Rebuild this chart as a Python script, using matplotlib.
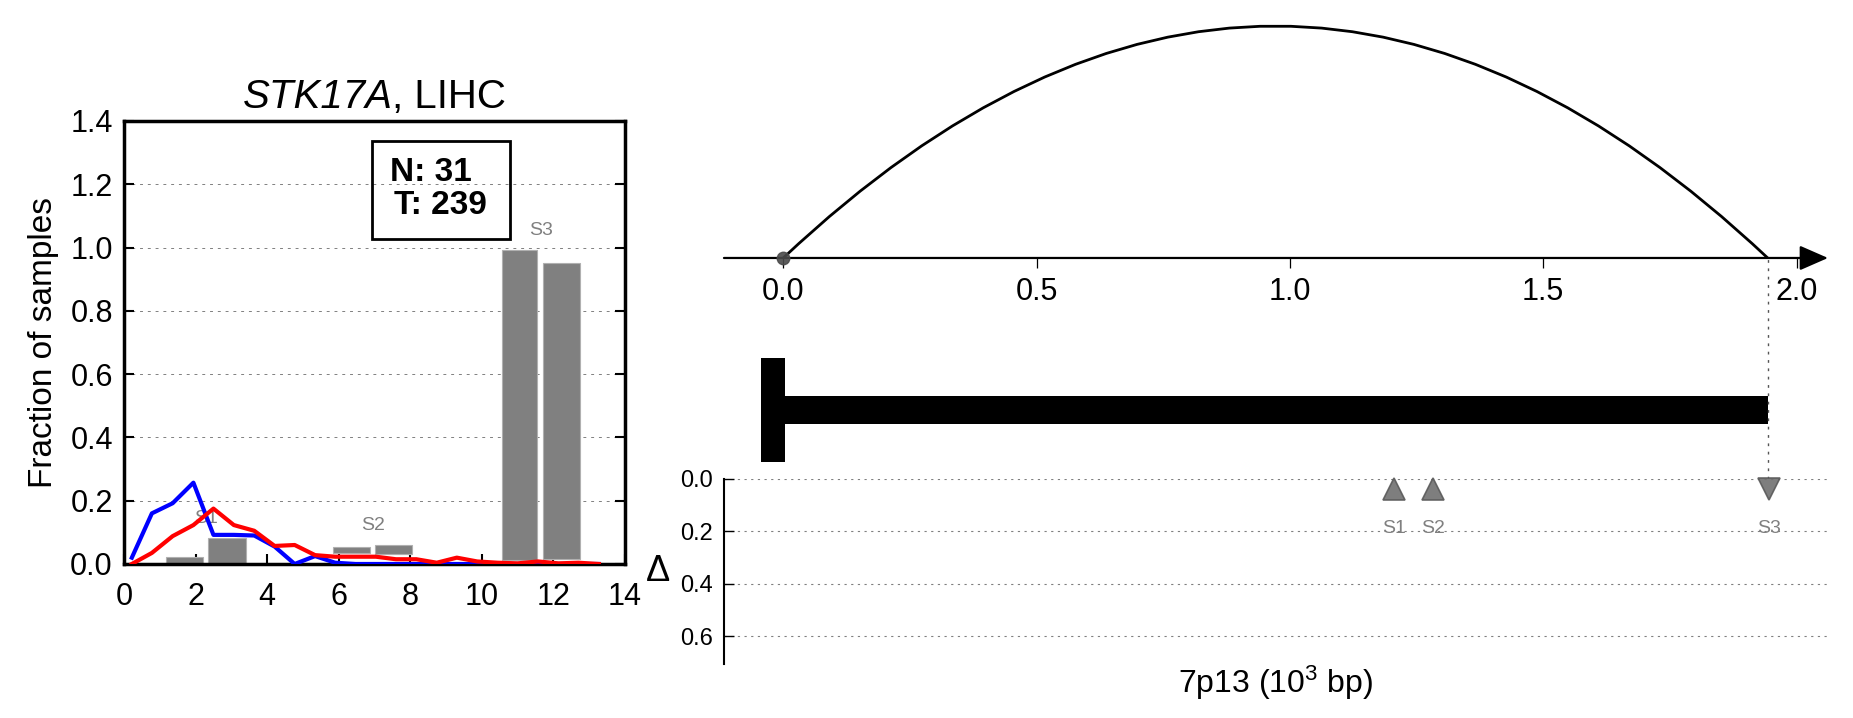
import matplotlib
matplotlib.use("Agg")
import matplotlib.pyplot as plt
from matplotlib.patches import Rectangle, PathPatch
from matplotlib.path import Path
from matplotlib.offsetbox import TextArea, HPacker, AnchoredOffsetbox

plt.rcParams["font.family"] = ["Liberation Sans", "DejaVu Sans"]
plt.rcParams["mathtext.fontset"] = "custom"
plt.rcParams["mathtext.rm"] = "Liberation Sans"
plt.rcParams["mathtext.it"] = "Liberation Sans:italic"
plt.rcParams["mathtext.bf"] = "Liberation Sans:bold"

# ---- left panel data ----
gene_name, cohort = "STK17A", "LIHC"
bin_x = [0.22, 0.78, 1.36, 1.94, 2.50, 3.07, 3.64, 4.21, 4.77, 5.34, 5.90, 6.47,
         7.04, 7.60, 8.17, 8.74, 9.30, 9.87, 10.44, 11.00, 11.57, 12.14, 12.70, 13.27]
normal_frac = [0.02, 0.16, 0.192, 0.257, 0.092, 0.092, 0.09, 0.055, 0.0, 0.025, 0.004, 0.0,
               0.0, 0.0, 0.0, 0.0, 0.0, 0.0, 0.0, 0.0, 0.0, 0.0, 0.0, 0.0]
tumor_frac = [0.0, 0.035, 0.088, 0.123, 0.175, 0.123, 0.105, 0.057, 0.060, 0.028, 0.023, 0.023,
              0.023, 0.015, 0.015, 0.004, 0.020, 0.008, 0.004, 0.002, 0.008, 0.002, 0.004, 0.0]

seg_names = ["S1", "S2", "S3"]
bar_left = [1.17, 2.36, 5.85, 7.02, 10.56, 11.70]
bar_right = [2.22, 3.40, 6.88, 8.05, 11.55, 12.73]
bar_top = [0.023, 0.081, 0.055, 0.060, 0.992, 0.952]
bar_bottom = [0.004, 0.004, 0.036, 0.033, 0.014, 0.015]
n_normal, n_tumor = 31, 239

# ---- right panel data ----
gene_start, gene_end = 0.0, 1.943
seg_pos = [1.206, 1.283, 1.946]
seg_delta = [0.04, 0.04, 0.04]
seg_marker = ["^", "^", "v"]
pos_ticks = [0.0, 0.5, 1.0, 1.5, 2.0]
delta_ticks = [0.0, 0.2, 0.4, 0.6]
x_range = (-0.117, 2.062)

fig = plt.figure(figsize=(18.53, 7.18), dpi=100)

# ================= left: fraction of samples =================
ax = fig.add_axes([0.0669, 0.2145, 0.2704, 0.6170])
widths = [r - l for l, r in zip(bar_left, bar_right)]
heights = [t - b for t, b in zip(bar_top, bar_bottom)]
ax.bar(bar_left, heights, width=widths, bottom=bar_bottom, align="edge",
       color="#808080", edgecolor="#b0b0b0", linewidth=0.8, zorder=2)
for i, name in enumerate(seg_names):
    cx = (bar_left[2 * i] + bar_right[2 * i + 1]) / 2
    cy = max(bar_top[2 * i], bar_top[2 * i + 1]) + 0.063
    ax.text(cx, cy, name, color="#808080", fontsize=14, ha="center", va="center", zorder=3)
ax.plot(bin_x, normal_frac, color="blue", lw=3, zorder=4)
ax.plot(bin_x, tumor_frac, color="red", lw=3, zorder=5)

ax.set_xlim(0, 14)
ax.set_ylim(0, 1.4)
ax.set_xticks(range(0, 15, 2))
ax.set_yticks([0.0, 0.2, 0.4, 0.6, 0.8, 1.0, 1.2, 1.4])
ax.set_yticklabels(["%.1f" % v for v in ax.get_yticks()])
ax.tick_params(direction="in", length=7, width=1.5, labelsize=22,
               left=True, right=True, bottom=True, top=False)
ax.tick_params(axis="y", pad=8)
ax.tick_params(axis="x", pad=13)
ax.yaxis.grid(True, color="#808080", linestyle=(0, (3, 5)), lw=0.7)
for s in ax.spines.values():
    s.set_linewidth(2.5)
ax.set_ylabel("Fraction of samples", fontsize=24, labelpad=8)

# title: italic gene name followed by the cohort
title_box = HPacker(children=[TextArea(gene_name, textprops=dict(fontsize=29, style="italic")),
                              TextArea(", " + cohort, textprops=dict(fontsize=29))],
                    align="baseline", pad=0, sep=0)
ax.add_artist(AnchoredOffsetbox(loc="lower center", child=title_box, pad=0, borderpad=0,
                                frameon=False, bbox_to_anchor=(0.5, 1.012),
                                bbox_transform=ax.transAxes))

ax.add_patch(Rectangle((0.496, 0.733), 0.275, 0.2225, transform=ax.transAxes,
                       fill=False, lw=2, edgecolor="black", zorder=6))
ax.text(0.531, 0.8646, "N: %d" % n_normal, transform=ax.transAxes, fontsize=24,
        fontweight="bold", va="baseline", ha="left", zorder=6)
ax.text(0.538, 0.790, "T: %d" % n_tumor, transform=ax.transAxes, fontsize=24,
        fontweight="bold", va="baseline", ha="left", zorder=6)

# ================= right top: link arc + position axis =================
ax_top = fig.add_axes([0.3907, 0.6407, 0.5958, 0.3593])
ax_top.set_xlim(*x_range)
ax_top.set_ylim(0, 1)
arc = Path([(gene_start, 0), ((gene_start + gene_end) / 2, 1.798), (gene_end, 0)],
           [Path.MOVETO, Path.CURVE3, Path.CURVE3])
ax_top.add_patch(PathPatch(arc, fill=False, lw=2, edgecolor="black"))
ax_top.plot([gene_start], [0], "o", color="#4a4a4a", ms=9, alpha=0.9, clip_on=False, zorder=5)
ax_top.annotate("", xy=(x_range[1], 0), xytext=(x_range[0], 0),
                arrowprops=dict(arrowstyle="-|>,head_length=0.8,head_width=0.35",
                                mutation_scale=22, lw=1.6, color="black",
                                shrinkA=0, shrinkB=0))
for side in ["top", "right", "left", "bottom"]:
    ax_top.spines[side].set_visible(False)
ax_top.set_yticks([])
ax_top.set_xticks(pos_ticks)
ax_top.set_xticklabels(["%.1f" % v for v in pos_ticks])
ax_top.tick_params(axis="x", direction="out", length=7, width=0.9, labelsize=22, pad=7)
ax_top.patch.set_visible(False)

# ================= right middle: gene body =================
ax_mid = fig.add_axes([0.3907, 0.3329, 0.5958, 0.3078])
ax_mid.set_xlim(*x_range)
ax_mid.set_ylim(0, 1)
ax_mid.add_patch(Rectangle((gene_start - 0.0445, 0.0769), 0.0474, 0.4706,
                           facecolor="black", edgecolor="none"))
ax_mid.add_patch(Rectangle((gene_start, 0.2475), gene_end - gene_start, 0.128,
                           facecolor="black", edgecolor="none"))
ax_mid.plot([gene_end, gene_end], [0, 1], color="#555555", lw=1, linestyle=(0, (2, 4)))
ax_mid.axis("off")

# ================= right bottom: delta =================
ax_d = fig.add_axes([0.3907, 0.0752, 0.5958, 0.2577])
ax_d.set_xlim(*x_range)
ax_d.set_ylim(0.705, 0.0)
for p, d, m, name in zip(seg_pos, seg_delta, seg_marker, seg_names):
    ax_d.plot([p], [d], m, ms=16, color="#707070", markeredgecolor="#5a5a5a",
              markeredgewidth=1.2, alpha=0.9, clip_on=False, zorder=4)
    ax_d.text(p, 0.19, name, color="#808080", fontsize=14, ha="center", va="center")
ax_d.set_xticks([])
ax_d.set_yticks(delta_ticks)
ax_d.set_yticklabels(["%.1f" % v for v in delta_ticks])
ax_d.tick_params(axis="y", direction="in", length=7, width=1, labelsize=17, pad=8)
ax_d.yaxis.grid(True, color="#808080", linestyle=(0, (2, 4)), lw=0.8)
for side in ["top", "right", "bottom"]:
    ax_d.spines[side].set_visible(False)
ax_d.spines["left"].set_linewidth(1.5)
ax_d.set_ylabel("Δ", fontsize=26, rotation=0, va="center", ha="center")
ax_d.yaxis.set_label_coords(-0.0598, 0.5)
ax_d.set_xlabel(r"7p13 (10$^3$ bp)", fontsize=23, va="center")
ax_d.xaxis.set_label_coords(0.5, -0.103)

fig.savefig("out.png", dpi=100)
